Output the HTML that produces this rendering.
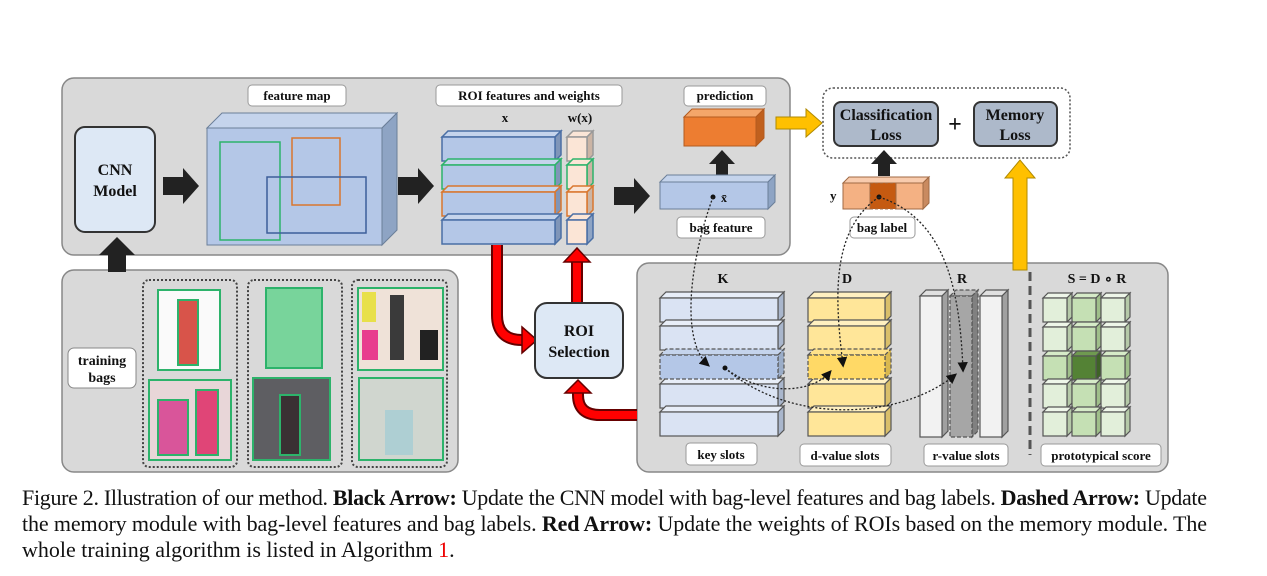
<!DOCTYPE html>
<html><head><meta charset="utf-8"><style>
html,body{margin:0;padding:0;background:#fff;}
svg{display:block;}
.l{font-family:"Liberation Serif",serif;font-weight:bold;fill:#111;}
.c{font-family:"Liberation Serif",serif;font-size:22px;fill:#111;}
</style></head><body>
<svg width="1267" height="576" viewBox="0 0 1267 576" xmlns="http://www.w3.org/2000/svg">
<defs>
<marker id="ah" markerWidth="8" markerHeight="8" refX="6" refY="4" orient="auto"><path d="M0,0 L8,4 L0,8 z" fill="#111"/></marker>
</defs>
<rect x="62" y="78" width="728" height="177" rx="12" fill="#d9d9d9" stroke="#888" stroke-width="1.5"/>
<rect x="62" y="270" width="396" height="202" rx="12" fill="#d9d9d9" stroke="#888" stroke-width="1.5"/>
<rect x="637" y="263" width="531" height="209" rx="12" fill="#d9d9d9" stroke="#888" stroke-width="1.5"/>

<rect x="75" y="127" width="80" height="105" rx="10" fill="#dde8f5" stroke="#333" stroke-width="2"/>
<text class="l" x="115" y="175" font-size="16" text-anchor="middle">CNN</text>
<text class="l" x="115" y="196" font-size="16" text-anchor="middle">Model</text>

<rect x="248" y="85" width="98" height="21" rx="4" fill="#fff" stroke="#999"/>
<text class="l" x="297" y="100" font-size="13" text-anchor="middle">feature map</text>
<rect x="436" y="85" width="186" height="21" rx="4" fill="#fff" stroke="#999"/>
<text class="l" x="529" y="100" font-size="13" text-anchor="middle">ROI features and weights</text>
<rect x="684" y="86" width="82" height="20" rx="4" fill="#fff" stroke="#999"/>
<text class="l" x="725" y="100" font-size="13" text-anchor="middle">prediction</text>

<polygon points="207,128 222,113 397,113 382,128" fill="#c5d4ec" stroke="#6b7f99"/>
<polygon points="382,128 397,113 397,230 382,245" fill="#8ea4c4" stroke="#6b7f99"/>
<rect x="207" y="128" width="175" height="117" fill="#b4c7e7" stroke="#6b7f99"/>
<rect x="220" y="142" width="60" height="98" fill="none" stroke="#2db36b" stroke-width="1.5"/>
<rect x="292" y="138" width="48" height="67" fill="none" stroke="#d9772f" stroke-width="1.5"/>
<rect x="267" y="177" width="99" height="56" fill="none" stroke="#3d5f9a" stroke-width="1.5"/>

<polygon points="163,177 183,177 183,168 199,186 183,204 183,195 163,195" fill="#222"/>
<polygon points="398,177 418,177 418,168 434,186 418,204 418,195 398,195" fill="#222"/>
<polygon points="614,187 634,187 634,178 650,196 634,214 634,205 614,205" fill="#222"/>

<text class="l" x="505" y="122" font-size="13" text-anchor="middle">x</text>
<text class="l" x="580" y="122" font-size="13" text-anchor="middle">w(x)</text>
<g stroke-width="1.5">
<polygon points="442,137 448,131 561,131 555,137" fill="#c5d4ec" stroke="#4a6fa5"/>
<polygon points="555,137 561,131 561,155 555,161" fill="#7f95b8" stroke="#4a6fa5"/>
<rect x="442" y="137" width="113" height="24" fill="#b4c7e7" stroke="#4a6fa5"/>
<polygon points="442,165 448,159 561,159 555,165" fill="#c5d4ec" stroke="#2db36b"/>
<polygon points="555,165 561,159 561,183 555,189" fill="#7f95b8" stroke="#2db36b"/>
<rect x="442" y="165" width="113" height="24" fill="#b4c7e7" stroke="#2db36b"/>
<polygon points="442,192 448,186 561,186 555,192" fill="#c5d4ec" stroke="#d9772f"/>
<polygon points="555,192 561,186 561,210 555,216" fill="#7f95b8" stroke="#d9772f"/>
<rect x="442" y="192" width="113" height="24" fill="#b4c7e7" stroke="#d9772f"/>
<polygon points="442,220 448,214 561,214 555,220" fill="#c5d4ec" stroke="#4a6fa5"/>
<polygon points="555,220 561,214 561,238 555,244" fill="#7f95b8" stroke="#4a6fa5"/>
<rect x="442" y="220" width="113" height="24" fill="#b4c7e7" stroke="#4a6fa5"/>

<polygon points="567,137 573,131 593,131 587,137" fill="#fbe5d6" stroke="#999"/>
<polygon points="587,137 593,131 593,155 587,161" fill="#cbb4a4" stroke="#999"/>
<rect x="567" y="137" width="20" height="24" fill="#fbe5d6" stroke="#999"/>
<polygon points="567,165 573,159 593,159 587,165" fill="#fbe5d6" stroke="#2db36b"/>
<polygon points="587,165 593,159 593,183 587,189" fill="#cbb4a4" stroke="#2db36b"/>
<rect x="567" y="165" width="20" height="24" fill="#fbe5d6" stroke="#2db36b"/>
<polygon points="567,192 573,186 593,186 587,192" fill="#fbe5d6" stroke="#d9772f"/>
<polygon points="587,192 593,186 593,210 587,216" fill="#cbb4a4" stroke="#d9772f"/>
<rect x="567" y="192" width="20" height="24" fill="#fbe5d6" stroke="#d9772f"/>
<polygon points="567,220 573,214 593,214 587,220" fill="#fbe5d6" stroke="#4a6fa5"/>
<polygon points="587,220 593,214 593,238 587,244" fill="#8ea4c4" stroke="#4a6fa5"/>
<rect x="567" y="220" width="20" height="24" fill="#fbe5d6" stroke="#4a6fa5"/>
</g>

<polygon points="684,117 692,109 764,109 756,117" fill="#f4a66a" stroke="#b35a1e"/>
<polygon points="756,117 764,109 764,138 756,146" fill="#c0601e" stroke="#b35a1e"/>
<rect x="684" y="117" width="72" height="29" fill="#ed7d31" stroke="#b35a1e"/>
<polygon points="716,178 716,164 709,164 722,150 735,164 728,164 728,178" fill="#222"/>

<polygon points="660,182 667,175 775,175 768,182" fill="#c5d4ec" stroke="#6b7f99"/>
<polygon points="768,182 775,175 775,202 768,209" fill="#8ea4c4" stroke="#6b7f99"/>
<rect x="660" y="182" width="108" height="27" fill="#b4c7e7" stroke="#6b7f99"/>
<circle cx="713" cy="197" r="2.5" fill="#111"/>
<text class="l" x="721" y="202" font-size="12">x̄</text>
<rect x="677" y="217" width="88" height="21" rx="4" fill="#fff" stroke="#999"/>
<text class="l" x="721" y="232" font-size="13" text-anchor="middle">bag feature</text>

<polygon points="776,117 806,117 806,109 822,123 806,137 806,129 776,129" fill="#ffc000" stroke="#b08a00"/>
<rect x="823" y="88" width="247" height="70" rx="10" fill="#fff" stroke="#555" stroke-width="1.5" stroke-dasharray="2,2"/>
<rect x="834" y="102" width="104" height="44" rx="7" fill="#adb9ca" stroke="#333" stroke-width="2"/>
<text class="l" x="886" y="120" font-size="16" text-anchor="middle">Classification</text>
<text class="l" x="886" y="140" font-size="16" text-anchor="middle">Loss</text>
<text class="l" x="955" y="132" font-size="24" text-anchor="middle">+</text>
<rect x="974" y="102" width="83" height="44" rx="7" fill="#adb9ca" stroke="#333" stroke-width="2"/>
<text class="l" x="1015" y="120" font-size="16" text-anchor="middle">Memory</text>
<text class="l" x="1015" y="140" font-size="16" text-anchor="middle">Loss</text>
<polygon points="1013,270 1013,178 1005,178 1020,160 1035,178 1027,178 1027,270" fill="#ffc000" stroke="#b08a00"/>

<polygon points="878,176 878,164 871,164 884,150 897,164 890,164 890,176" fill="#222"/>
<polygon points="843,183 849,177 929,177 923,183" fill="#f8cbad" stroke="#a06a44"/>
<polygon points="923,183 929,177 929,203 923,209" fill="#c98a60" stroke="#a06a44"/>
<rect x="843" y="183" width="27" height="26" fill="#f4b183" stroke="#a06a44"/>
<rect x="870" y="183" width="26" height="26" fill="#c55a11" stroke="#a06a44" stroke-dasharray="3,2"/>
<rect x="896" y="183" width="27" height="26" fill="#f4b183" stroke="#a06a44"/>
<circle cx="879" cy="197" r="2.5" fill="#111"/>
<text class="l" x="830" y="200" font-size="13">y</text>
<rect x="850" y="217" width="65" height="21" rx="4" fill="#fff" stroke="#999"/>
<text class="l" x="882" y="232" font-size="13" text-anchor="middle">bag label</text>

<polygon points="108,272 108,255 99,255 117,237 135,255 126,255 126,272" fill="#222"/>
<rect x="68" y="348" width="68" height="40" rx="6" fill="#fff" stroke="#888"/>
<text class="l" x="102" y="365" font-size="14" text-anchor="middle">training</text>
<text class="l" x="102" y="382" font-size="14" text-anchor="middle">bags</text>
<g fill="none" stroke="#444" stroke-width="2" stroke-dasharray="2,2">
<rect x="143" y="280" width="94" height="187" rx="6"/>
<rect x="248" y="280" width="94" height="187" rx="6"/>
<rect x="352" y="280" width="95" height="187" rx="6"/>
</g>
<g stroke="#2db36b" stroke-width="2">
<rect x="158" y="290" width="62" height="80" fill="#fafafa"/>
<rect x="178" y="300" width="20" height="65" fill="#d8544a"/>
<rect x="149" y="380" width="82" height="80" fill="#e8d6d8"/>
<rect x="158" y="400" width="30" height="55" fill="#d9559a"/>
<rect x="196" y="390" width="22" height="65" fill="#e04577"/>
<rect x="266" y="288" width="56" height="80" fill="#78d49b"/>
<rect x="253" y="378" width="77" height="82" fill="#5e5e62"/>
<rect x="280" y="395" width="20" height="60" fill="#3a3033"/>
<rect x="358" y="288" width="85" height="82" fill="#efe2d8"/>
<rect x="362" y="292" width="14" height="30" fill="#e8e04a" stroke="none"/>
<rect x="362" y="330" width="16" height="30" fill="#e83c8e" stroke="none"/>
<rect x="420" y="330" width="18" height="30" fill="#222" stroke="none"/>
<rect x="390" y="295" width="14" height="65" fill="#3a3a3a" stroke="none"/>
<rect x="359" y="378" width="84" height="82" fill="#d0d6cf"/>
<rect x="385" y="410" width="28" height="45" fill="#aecfd3" stroke="none"/>
</g>

<path d="M497,245 V315 Q497,340 522,340 H526" fill="none" stroke="#600" stroke-width="12"/>
<path d="M497,245 V315 Q497,340 522,340 H526" fill="none" stroke="#f00" stroke-width="8"/>
<polygon points="522,327 537,340 522,353" fill="#f00" stroke="#600" stroke-width="1.5"/>
<path d="M577,303 V261" fill="none" stroke="#600" stroke-width="12"/>
<path d="M577,303 V261" fill="none" stroke="#f00" stroke-width="8"/>
<polygon points="564,262 577,248 590,262" fill="#f00" stroke="#600" stroke-width="1.5"/>
<path d="M637,415 H600 Q578,415 578,395 V392" fill="none" stroke="#600" stroke-width="12"/>
<path d="M637,415 H600 Q578,415 578,395 V392" fill="none" stroke="#f00" stroke-width="8"/>
<polygon points="565,393 578,380 591,393" fill="#f00" stroke="#600" stroke-width="1.5"/>
<rect x="535" y="303" width="88" height="75" rx="12" fill="#dde8f5" stroke="#333" stroke-width="2"/>
<text class="l" x="579" y="336" font-size="16" text-anchor="middle">ROI</text>
<text class="l" x="579" y="357" font-size="16" text-anchor="middle">Selection</text>

<text class="l" x="723" y="283" font-size="14" text-anchor="middle">K</text>
<text class="l" x="847" y="283" font-size="14" text-anchor="middle">D</text>
<text class="l" x="962" y="283" font-size="14" text-anchor="middle">R</text>
<text class="l" x="1097" y="283" font-size="14" text-anchor="middle">S = D ∘ R</text>
<g stroke="#555" stroke-width="1.2">
<g id="krow">
<polygon points="660,298 666,292 784,292 778,298" fill="#e8eef8"/>
<polygon points="778,298 784,292 784,316 778,322" fill="#a9b6cc"/>
<rect x="660" y="298" width="118" height="24" fill="#dae3f3"/>
</g>
<use href="#krow" y="28"/>
<use href="#krow" y="86"/>
<use href="#krow" y="114"/>
<polygon points="660,355 666,349 784,349 778,355" fill="#c5d4ec" stroke-dasharray="4,2"/>
<polygon points="778,355 784,349 784,373 778,379" fill="#9badc8" stroke-dasharray="4,2"/>
<rect x="660" y="355" width="118" height="24" fill="#b4c7e7" stroke-dasharray="4,2"/>
<g id="drow">
<polygon points="808,298 814,292 891,292 885,298" fill="#fff0c0"/>
<polygon points="885,298 891,292 891,316 885,322" fill="#d9bf6a"/>
<rect x="808" y="298" width="77" height="24" fill="#ffe699"/>
</g>
<use href="#drow" y="28"/>
<use href="#drow" y="86"/>
<use href="#drow" y="114"/>
<polygon points="808,355 814,349 891,349 885,355" fill="#ffe28a" stroke-dasharray="4,2"/>
<polygon points="885,355 891,349 891,373 885,379" fill="#d9b84f" stroke-dasharray="4,2"/>
<rect x="808" y="355" width="77" height="24" fill="#ffd966" stroke-dasharray="4,2"/>
<polygon points="920,296 926,290 948,290 942,296" fill="#e0e0e0"/>
<polygon points="942,296 948,290 948,431 942,437" fill="#a0a0a0"/>
<rect x="920" y="296" width="22" height="141" fill="#f2f2f2"/>
<polygon points="950,296 956,290 978,290 972,296" fill="#b8b8b8" stroke-dasharray="4,2"/>
<polygon points="972,296 978,290 978,431 972,437" fill="#808080" stroke-dasharray="4,2"/>
<rect x="950" y="296" width="22" height="141" fill="#a6a6a6" stroke-dasharray="4,2"/>
<polygon points="980,296 986,290 1008,290 1002,296" fill="#e0e0e0"/>
<polygon points="1002,296 1008,290 1008,431 1002,437" fill="#a0a0a0"/>
<rect x="980" y="296" width="22" height="141" fill="#f2f2f2"/>
<g id="cl"><polygon points="1043,298 1048,293 1072,293 1067,298" fill="#eef6e9"/><polygon points="1067,298 1072,293 1072,317 1067,322" fill="#b5c9a8"/><rect x="1043" y="298" width="24" height="24" fill="#e2efda"/></g>
<g id="cm"><polygon points="1072,298 1077,293 1101,293 1096,298" fill="#d6ebc8"/><polygon points="1096,298 1101,293 1101,317 1096,322" fill="#9fbf8a"/><rect x="1072" y="298" width="24" height="24" fill="#c5e0b4"/></g>
<use href="#cl" x="58"/>
<use href="#cl" y="29"/><use href="#cm" y="29"/><use href="#cl" x="58" y="29"/>
<use href="#cm" x="-29" y="58"/>
<polygon points="1072,356 1077,351 1101,351 1096,356" fill="#6f9a50"/><polygon points="1096,356 1101,351 1101,375 1096,380" fill="#3e6326"/><rect x="1072" y="356" width="24" height="24" fill="#548235"/>
<use href="#cm" x="29" y="58"/>
<use href="#cl" y="86"/><use href="#cm" y="86"/><use href="#cl" x="58" y="86"/>
<use href="#cl" y="114"/><use href="#cm" y="114"/><use href="#cl" x="58" y="114"/>
</g>
<line x1="1030" y1="272" x2="1030" y2="455" stroke="#555" stroke-width="3" stroke-dasharray="9,5"/>

<rect x="686" y="443" width="71" height="22" rx="4" fill="#fff" stroke="#999"/>
<text class="l" x="721" y="459" font-size="13" text-anchor="middle">key slots</text>
<rect x="800" y="444" width="91" height="22" rx="4" fill="#fff" stroke="#999"/>
<text class="l" x="845" y="460" font-size="13" text-anchor="middle">d-value slots</text>
<rect x="924" y="444" width="84" height="22" rx="4" fill="#fff" stroke="#999"/>
<text class="l" x="966" y="460" font-size="13" text-anchor="middle">r-value slots</text>
<rect x="1041" y="444" width="120" height="22" rx="4" fill="#fff" stroke="#999"/>
<text class="l" x="1101" y="460" font-size="13" text-anchor="middle">prototypical score</text>

<g fill="none" stroke="#222" stroke-width="1.3" stroke-dasharray="2,2" marker-end="url(#ah)">
<path d="M713,197 C690,260 680,340 708,365"/>
<path d="M879,197 C830,230 835,300 843,365"/>
<path d="M879,197 C950,220 960,300 963,370"/>
<path d="M725,368 C760,395 810,395 830,372"/>
<path d="M725,368 C790,425 900,420 955,375"/>
</g>
<circle cx="725" cy="368" r="2.5" fill="#111"/>

<text class="c" x="22" y="505" textLength="1185" lengthAdjust="spacing">Figure 2. Illustration of our method. <tspan font-weight="bold">Black Arrow:</tspan> Update the CNN model with bag-level features and bag labels. <tspan font-weight="bold">Dashed Arrow:</tspan> Update</text>
<text class="c" x="22" y="531" textLength="1185" lengthAdjust="spacing">the memory module with bag-level features and bag labels. <tspan font-weight="bold">Red Arrow:</tspan> Update the weights of ROIs based on the memory module. The</text>
<text class="c" x="22" y="557">whole training algorithm is listed in Algorithm <tspan fill="#e00">1</tspan>.</text>
</svg>
</body></html>
